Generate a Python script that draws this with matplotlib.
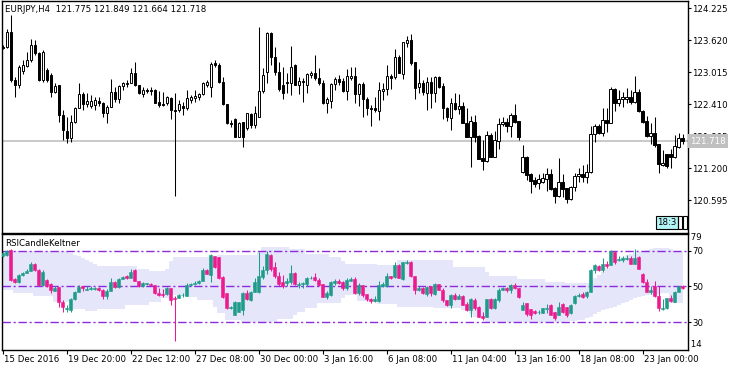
import matplotlib
matplotlib.use("Agg")
import matplotlib.pyplot as plt
import matplotlib.transforms as mtransforms
from matplotlib.patches import Rectangle
import numpy as np

plt.rcParams["font.family"] = ["DejaVu Sans"]
plt.rcParams["font.size"] = 6.2

#### Data ####
symbol_title = "EURJPY,H4  121.775 121.849 121.664 121.718"
indicator_name = "RSICandleKeltner"

price_open = [
    123.493, 123.493, 123.777, 122.870, 122.775, 123.040, 123.134, 123.248, 123.531, 123.380,
    122.870, 123.059, 122.964, 122.643, 122.775, 122.208, 121.905, 121.773, 122.075, 122.340,
    122.605, 122.416, 122.378, 122.397, 122.472, 122.435, 122.246, 122.359, 122.643, 122.510,
    122.756, 122.794, 122.813, 123.002, 122.775, 122.605, 122.681, 122.681, 122.681, 122.454,
    122.416, 122.435, 122.529, 122.302, 122.302, 122.378, 122.340, 122.491, 122.529, 122.548,
    122.605, 122.775, 122.737, 123.191, 123.153, 122.832, 122.416, 122.057, 122.132, 121.792,
    122.075, 121.962, 122.227, 122.019, 122.170, 122.662, 123.021, 123.758, 123.304, 123.021,
    122.775, 122.832, 122.813, 123.153, 122.775, 122.851, 122.775, 122.964, 123.002, 122.907,
    122.813, 122.435, 122.472, 122.794, 122.888, 122.851, 122.662, 122.907, 122.945, 122.605,
    122.794, 122.510, 122.340, 122.340, 122.283, 122.662, 122.699, 122.945, 122.926, 123.304,
    122.983, 123.569, 123.626, 123.210, 122.737, 122.813, 122.624, 122.832, 122.624, 122.926,
    122.756, 122.340, 122.151, 122.435, 122.321, 122.378, 122.057, 121.792, 122.075, 121.811,
    121.395, 121.338, 121.830, 121.414, 121.716, 122.038, 122.075, 122.000, 122.208, 122.094,
    121.130, 121.414, 121.092, 120.979, 120.922, 120.941, 120.998, 121.092, 120.828, 120.677,
    120.941, 120.828, 120.620, 120.847, 121.054, 121.092, 121.035, 121.130, 121.849, 122.000,
    121.867, 122.113, 122.057, 122.699, 122.435, 122.510, 122.510, 122.548, 122.454, 122.643,
    122.283, 122.094, 121.811, 121.867, 121.660, 121.262, 121.470, 121.470, 121.414, 121.603,
    121.775,
]
price_high = [
    123.531, 123.834, 124.098, 122.926, 123.153, 123.248, 123.399, 123.645, 123.626, 123.399,
    123.437, 123.096, 123.002, 122.813, 122.775, 122.302, 122.170, 122.208, 122.359, 122.813,
    122.643, 122.624, 122.586, 122.548, 122.548, 122.454, 122.397, 122.888, 122.737, 122.775,
    122.832, 122.870, 123.096, 123.210, 122.775, 122.737, 122.718, 122.737, 122.699, 122.662,
    122.643, 122.567, 122.548, 122.624, 122.491, 122.454, 122.681, 122.586, 122.681, 122.624,
    122.832, 122.870, 123.210, 123.248, 123.191, 122.926, 122.416, 122.113, 122.151, 122.075,
    122.075, 122.246, 122.246, 122.378, 123.872, 123.096, 123.777, 123.777, 123.493, 123.210,
    123.115, 123.002, 123.512, 123.172, 122.926, 122.907, 123.002, 123.040, 123.342, 123.096,
    122.870, 122.548, 122.813, 122.926, 122.964, 122.907, 123.077, 123.115, 123.115, 122.813,
    122.832, 122.548, 122.397, 122.548, 122.832, 122.813, 123.153, 122.983, 123.456, 123.342,
    123.588, 123.701, 123.739, 123.210, 123.077, 122.870, 122.926, 122.926, 122.945, 122.945,
    122.813, 122.359, 122.529, 122.624, 122.605, 122.454, 122.340, 122.189, 122.208, 121.830,
    121.735, 121.905, 121.867, 121.905, 122.151, 122.170, 122.151, 122.246, 122.416, 122.094,
    121.641, 121.433, 121.111, 121.035, 121.092, 121.111, 121.206, 121.187, 120.847, 121.395,
    121.092, 120.828, 120.866, 121.111, 121.206, 121.262, 121.281, 122.000, 122.038, 122.038,
    122.340, 122.340, 122.737, 122.718, 122.681, 122.643, 122.718, 122.681, 122.945, 122.699,
    122.302, 122.189, 122.057, 122.170, 121.660, 121.546, 121.470, 121.565, 121.830, 121.867,
    121.849,
]
price_low = [
    123.456, 123.475, 122.832, 122.548, 122.718, 122.983, 123.115, 123.210, 123.342, 122.851,
    122.832, 122.832, 122.548, 122.624, 122.075, 121.735, 121.678, 121.697, 122.057, 122.340,
    122.302, 122.359, 122.340, 122.302, 122.378, 122.170, 122.057, 122.359, 122.454, 122.435,
    122.681, 122.737, 122.813, 122.756, 122.605, 122.548, 122.624, 122.586, 122.435, 122.359,
    122.378, 122.397, 122.132, 120.677, 122.265, 122.208, 122.302, 122.435, 122.454, 122.491,
    122.586, 122.737, 122.548, 123.115, 122.813, 122.397, 122.038, 121.981, 121.792, 121.792,
    121.603, 121.924, 121.962, 121.962, 122.170, 122.624, 122.813, 123.153, 122.964, 122.662,
    122.510, 122.624, 122.586, 122.775, 122.605, 122.454, 122.624, 122.907, 122.870, 122.775,
    122.416, 122.246, 122.340, 122.681, 122.775, 122.643, 122.491, 122.870, 122.435, 122.378,
    122.170, 122.208, 122.000, 122.265, 122.113, 122.491, 122.586, 122.699, 122.888, 123.002,
    122.888, 123.493, 123.153, 122.510, 122.624, 122.586, 122.302, 122.340, 122.454, 122.718,
    122.132, 122.094, 121.924, 122.302, 122.227, 122.057, 121.792, 121.225, 121.697, 121.376,
    121.168, 121.319, 121.414, 121.414, 121.565, 122.000, 121.886, 121.792, 122.057, 121.735,
    121.111, 120.979, 120.733, 120.847, 120.809, 120.922, 120.771, 120.790, 120.544, 120.658,
    120.658, 120.544, 120.601, 120.771, 120.941, 120.941, 120.922, 121.111, 121.697, 121.849,
    121.811, 121.886, 122.057, 122.283, 122.378, 122.359, 122.435, 122.416, 122.435, 122.265,
    122.057, 121.792, 121.660, 121.603, 121.111, 121.244, 121.206, 121.206, 121.395, 121.584,
    121.664,
]
price_close = [
    123.484, 123.777, 122.870, 122.775, 123.115, 123.153, 123.248, 123.531, 123.380, 122.870,
    123.399, 122.870, 122.643, 122.756, 122.208, 121.924, 121.773, 122.075, 122.340, 122.605,
    122.416, 122.472, 122.472, 122.491, 122.435, 122.246, 122.359, 122.643, 122.510, 122.756,
    122.813, 122.813, 123.002, 122.775, 122.624, 122.681, 122.662, 122.662, 122.435, 122.397,
    122.397, 122.548, 122.302, 122.293, 122.416, 122.340, 122.529, 122.548, 122.567, 122.605,
    122.813, 122.832, 123.172, 123.153, 122.832, 122.416, 122.057, 122.038, 121.792, 122.057,
    121.792, 122.246, 122.019, 122.246, 122.662, 122.964, 123.758, 123.304, 123.021, 122.699,
    122.624, 122.822, 123.115, 122.775, 122.851, 122.832, 122.983, 123.002, 122.907, 122.813,
    122.435, 122.510, 122.794, 122.888, 122.832, 122.662, 122.945, 122.945, 122.605, 122.794,
    122.510, 122.340, 122.321, 122.302, 122.681, 122.699, 122.945, 122.907, 123.304, 123.002,
    123.588, 123.626, 123.191, 122.718, 122.813, 122.643, 122.832, 122.624, 122.926, 122.737,
    122.340, 122.170, 122.435, 122.321, 122.378, 122.057, 121.792, 122.094, 121.792, 121.376,
    121.338, 121.830, 121.414, 121.735, 122.038, 122.075, 122.000, 122.208, 122.075, 121.792,
    121.414, 121.073, 120.960, 120.903, 120.998, 121.016, 121.092, 120.809, 120.677, 120.941,
    120.809, 120.620, 120.847, 121.054, 121.092, 121.035, 121.130, 121.849, 122.000, 121.867,
    122.113, 122.057, 122.699, 122.435, 122.510, 122.548, 122.548, 122.454, 122.643, 122.283,
    122.075, 121.811, 121.867, 121.641, 121.281, 121.300, 121.244, 121.414, 121.622, 121.773,
    121.718,
]

rsi_open = [
    67.0, 67.4, 70.5, 53.9, 52.6, 56.3, 57.6, 58.7, 62.6, 59.4,
    50.7, 53.8, 51.5, 47.6, 49.6, 41.5, 37.5, 36.9, 43.0, 46.7,
    50.2, 48.1, 48.7, 48.5, 49.1, 48.3, 44.4, 47.6, 52.6, 49.8,
    54.4, 55.6, 55.0, 59.4, 53.1, 50.2, 51.3, 51.1, 50.7, 46.5,
    45.7, 45.6, 48.9, 43.6, 43.8, 45.0, 44.8, 50.7, 51.3, 51.8,
    53.1, 59.1, 56.3, 67.0, 66.5, 55.2, 46.1, 38.0, 34.1, 35.9,
    36.9, 46.5, 42.6, 47.0, 47.0, 55.2, 59.1, 67.4, 61.1, 56.1,
    52.6, 52.2, 52.6, 57.6, 50.6, 51.3, 51.3, 54.6, 55.4, 53.5,
    51.3, 44.3, 45.2, 51.7, 53.0, 52.6, 48.9, 53.1, 53.9, 46.5,
    50.7, 45.7, 42.8, 42.0, 41.7, 50.2, 50.2, 55.6, 55.2, 62.2,
    54.3, 63.1, 63.9, 55.6, 47.8, 49.4, 45.7, 50.2, 45.6, 51.3,
    48.3, 42.4, 39.6, 45.2, 43.2, 44.6, 40.2, 36.9, 42.4, 38.7,
    33.3, 33.0, 42.8, 37.8, 42.6, 48.3, 49.1, 48.0, 50.7, 48.9,
    36.9, 40.9, 37.2, 36.5, 35.5, 35.2, 37.4, 39.6, 35.9, 34.1,
    40.2, 38.7, 35.2, 41.0, 44.6, 45.7, 44.6, 47.0, 59.1, 61.3,
    59.1, 62.4, 62.2, 69.3, 64.6, 64.8, 65.4, 66.1, 62.8, 66.5,
    57.2, 52.6, 46.9, 50.0, 44.6, 37.2, 37.8, 43.7, 41.5, 47.0,
    50.2,
]
rsi_high = [
    69.5, 70.5, 71.0, 54.5, 56.8, 58.2, 59.5, 63.5, 63.0, 59.8,
    59.0, 54.3, 52.0, 50.5, 49.6, 42.5, 39.5, 43.5, 47.5, 51.0,
    50.5, 50.0, 50.0, 49.8, 49.8, 48.6, 48.6, 55.0, 53.3, 55.0,
    56.0, 56.2, 59.5, 60.0, 53.1, 52.5, 52.0, 51.7, 50.9, 49.0,
    48.5, 49.5, 49.0, 44.5, 46.0, 46.5, 52.0, 52.0, 53.0, 53.7,
    60.2, 59.8, 68.2, 67.2, 66.6, 56.0, 46.1, 39.0, 41.8, 41.6,
    46.7, 48.0, 47.4, 54.5, 69.5, 61.5, 70.0, 68.0, 63.5, 58.0,
    56.5, 54.5, 62.0, 58.0, 52.5, 52.5, 55.5, 55.6, 57.5, 55.0,
    51.5, 47.2, 53.0, 54.2, 54.0, 53.0, 55.0, 55.5, 55.5, 52.0,
    51.0, 46.0, 43.5, 44.5, 53.0, 52.5, 57.5, 56.0, 63.5, 62.5,
    63.6, 64.6, 64.5, 55.6, 50.5, 49.9, 50.5, 50.4, 51.9, 51.5,
    49.0, 42.6, 46.0, 46.5, 46.0, 45.0, 41.5, 43.3, 43.5, 38.9,
    36.0, 43.2, 43.3, 43.3, 49.2, 49.6, 49.8, 51.3, 52.0, 49.2,
    41.5, 41.0, 37.6, 37.0, 36.8, 38.1, 40.0, 40.0, 36.0, 41.5,
    41.0, 38.8, 40.0, 45.0, 46.5, 47.0, 47.6, 59.8, 62.5, 61.8,
    66.0, 64.5, 70.2, 69.6, 66.8, 67.0, 67.8, 67.0, 71.1, 67.2,
    57.6, 54.0, 50.0, 53.0, 50.0, 43.0, 43.6, 45.0, 47.5, 50.5,
    50.9,
]
rsi_low = [
    66.5, 67.0, 53.0, 52.0, 52.2, 56.0, 57.3, 58.4, 58.5, 50.4,
    50.4, 49.8, 46.5, 47.3, 38.7, 36.0, 35.5, 36.0, 42.7, 46.7,
    47.5, 47.8, 48.2, 47.8, 47.6, 43.2, 43.0, 47.6, 49.0, 49.3,
    54.0, 54.4, 55.0, 52.8, 49.6, 49.6, 50.9, 50.0, 46.0, 44.6,
    44.1, 45.2, 39.6, 19.8, 43.4, 44.0, 44.5, 50.0, 50.6, 51.5,
    52.9, 56.7, 52.6, 60.5, 54.4, 43.5, 37.4, 37.4, 34.1, 35.5,
    34.0, 42.5, 41.8, 46.8, 46.5, 54.0, 57.0, 58.5, 54.5, 50.5,
    49.0, 50.5, 51.5, 51.0, 49.3, 49.0, 50.5, 54.0, 53.0, 50.3,
    44.0, 43.0, 44.5, 51.0, 51.6, 48.3, 48.0, 52.8, 46.0, 45.5,
    44.0, 42.0, 40.9, 41.5, 41.5, 49.5, 49.5, 54.0, 54.9, 54.5,
    53.5, 62.5, 55.3, 46.0, 47.3, 46.0, 44.8, 44.5, 45.0, 48.0,
    41.5, 39.0, 38.0, 42.5, 42.8, 39.6, 36.5, 32.8, 37.0, 33.0,
    31.5, 32.8, 37.5, 37.6, 41.5, 48.0, 47.0, 46.5, 48.5, 43.8,
    36.7, 33.5, 32.0, 34.5, 34.8, 35.0, 35.2, 33.8, 31.3, 33.9,
    35.0, 33.2, 34.8, 40.0, 44.0, 43.8, 43.8, 46.8, 57.5, 58.8,
    58.3, 60.5, 62.0, 62.5, 64.0, 63.6, 64.8, 62.4, 62.6, 59.6,
    52.0, 46.8, 46.0, 44.0, 36.5, 37.0, 37.5, 41.5, 41.3, 46.8,
    48.6,
]
rsi_close = [
    68.9, 69.8, 53.5, 52.6, 56.3, 57.6, 58.7, 62.4, 59.4, 50.7,
    58.1, 50.2, 48.0, 49.4, 41.5, 38.7, 37.9, 43.0, 46.7, 49.8,
    48.9, 48.7, 48.9, 49.1, 48.3, 44.6, 47.6, 52.6, 49.8, 54.4,
    55.4, 55.0, 58.1, 53.1, 50.2, 51.7, 51.7, 50.7, 46.1, 45.2,
    45.4, 48.9, 42.4, 42.8, 45.2, 45.4, 50.7, 51.3, 51.8, 53.1,
    59.1, 57.2, 67.4, 60.9, 55.0, 44.3, 37.8, 38.5, 41.5, 41.5,
    46.5, 42.8, 47.0, 52.6, 56.0, 59.1, 68.0, 60.0, 55.7, 51.3,
    50.2, 52.8, 57.6, 51.3, 51.5, 51.7, 54.8, 54.8, 53.5, 50.7,
    44.3, 46.5, 52.6, 53.0, 52.1, 48.9, 53.5, 53.9, 46.5, 50.7,
    45.2, 42.8, 42.0, 42.8, 50.7, 51.1, 55.7, 54.9, 62.2, 54.8,
    63.5, 63.9, 55.6, 47.8, 49.2, 46.5, 49.8, 46.1, 51.3, 48.3,
    42.4, 39.6, 45.2, 43.0, 44.6, 39.6, 36.9, 42.8, 37.8, 33.1,
    32.6, 42.8, 37.8, 42.8, 48.3, 48.9, 48.0, 50.7, 49.4, 44.3,
    39.6, 34.5, 34.1, 35.2, 35.9, 37.8, 37.8, 34.1, 32.2, 38.7,
    35.9, 34.1, 39.6, 44.6, 45.2, 44.3, 47.0, 59.4, 61.9, 59.4,
    62.8, 61.5, 69.8, 63.7, 65.4, 66.1, 66.1, 62.8, 66.1, 60.0,
    52.6, 47.0, 47.8, 44.6, 37.8, 38.1, 43.3, 42.0, 47.0, 50.2,
    48.9,
]

band_upper = [
    69.6, 69.6, 69.6, 69.6, 69.6, 69.6, 69.6, 69.6, 69.6, 69.6,
    69.6, 69.6, 69.6, 69.6, 69.6, 69.6, 69.6, 68.5, 67.5, 66.8,
    66.0, 65.0, 63.5, 62.5, 61.5, 61.5, 61.5, 61.5, 61.5, 61.5,
    61.5, 61.5, 61.5, 61.5, 59.5, 59.5, 59.5, 58.5, 58.5, 58.5,
    58.5, 60.0, 64.0, 66.5, 66.5, 66.5, 66.5, 66.5, 66.5, 66.5,
    66.5, 66.5, 66.5, 66.5, 67.4, 67.4, 67.4, 67.4, 67.4, 67.4,
    67.4, 67.4, 67.4, 67.4, 70.0, 72.3, 72.3, 72.3, 72.3, 72.3,
    72.3, 72.3, 71.0, 71.0, 71.0, 71.0, 68.3, 68.3, 68.3, 68.3,
    68.3, 68.3, 66.5, 66.5, 66.5, 64.5, 62.8, 62.8, 62.8, 62.8,
    62.8, 62.8, 62.8, 62.8, 61.9, 61.9, 61.9, 61.9, 61.9, 65.0,
    65.0, 65.0, 65.0, 65.0, 65.0, 65.0, 65.0, 65.0, 64.6, 64.6,
    64.6, 64.6, 64.6, 61.0, 61.0, 61.0, 61.0, 61.0, 61.0, 61.0,
    61.0, 58.0, 55.7, 55.7, 55.7, 55.7, 55.7, 55.7, 55.7, 54.4,
    54.4, 54.4, 54.4, 54.4, 54.4, 54.4, 52.6, 52.6, 52.6, 52.6,
    52.6, 52.0, 52.0, 52.0, 52.0, 52.0, 52.0, 53.5, 55.0, 56.3,
    58.0, 60.5, 62.8, 64.0, 65.0, 66.3, 67.4, 68.0, 68.8, 69.3,
    69.8, 70.5, 71.2, 71.6, 71.6, 71.6, 71.6, 71.0, 70.0, 69.8,
    69.5,
]
band_lower = [
    47.8, 47.8, 47.8, 46.5, 46.5, 46.5, 46.5, 46.5, 44.8, 44.8,
    44.8, 44.8, 44.8, 41.5, 41.5, 41.5, 41.5, 37.2, 37.2, 37.2,
    37.2, 36.5, 36.5, 36.5, 37.5, 37.5, 37.5, 37.5, 37.5, 37.5,
    37.5, 39.5, 39.5, 39.5, 39.5, 39.5, 39.5, 41.5, 41.5, 41.5,
    43.3, 43.3, 45.5, 45.5, 45.5, 45.5, 45.5, 44.0, 44.0, 42.4,
    42.4, 42.4, 42.4, 38.5, 35.0, 35.0, 31.3, 31.3, 31.3, 31.3,
    30.4, 30.4, 30.4, 30.4, 30.4, 30.4, 30.4, 30.4, 30.4, 31.7,
    31.7, 31.7, 31.7, 34.0, 36.0, 36.0, 37.8, 37.8, 37.8, 40.5,
    40.5, 40.5, 40.5, 40.5, 40.5, 43.3, 45.0, 45.0, 45.0, 42.0,
    42.0, 42.0, 42.0, 42.0, 40.0, 40.0, 40.0, 40.0, 40.0, 38.7,
    38.7, 38.7, 38.7, 38.7, 38.7, 38.7, 38.7, 38.7, 37.8, 37.8,
    37.8, 37.8, 37.8, 37.8, 37.8, 36.9, 36.9, 34.5, 32.8, 32.8,
    32.8, 30.4, 30.4, 30.4, 30.4, 30.4, 30.4, 30.4, 30.4, 30.4,
    30.4, 30.4, 30.4, 30.4, 30.4, 30.4, 30.4, 30.4, 30.4, 30.4,
    30.4, 30.8, 30.8, 30.8, 31.3, 31.3, 32.2, 33.1, 34.5, 35.9,
    36.8, 37.3, 37.8, 38.7, 39.6, 40.5, 41.5, 42.4, 43.3, 44.2,
    44.6, 45.0, 45.2, 45.5, 45.8, 46.1, 46.1, 40.5, 40.5, 40.5,
    40.5,
]

price_levels = [124.225, 123.620, 123.015, 122.410, 121.805, 121.200, 120.595]
rsi_levels = [70, 50, 30]
date_bars = [0, 16, 32, 48, 64, 80, 96, 112, 128, 144, 160]
date_labels = ["15 Dec 2016", "19 Dec 20:00", "22 Dec 12:00", "27 Dec 08:00",
               "30 Dec 00:00", "3 Jan 16:00", "6 Jan 08:00", "11 Jan 04:00",
               "13 Jan 16:00", "18 Jan 08:00", "23 Jan 00:00"]

#### Plot ####
po = np.array(price_open)
ph = np.array(price_high)
pl = np.array(price_low)
pc = np.array(price_close)
ro = np.array(rsi_open)
rh = np.array(rsi_high)
rl = np.array(rsi_low)
rc = np.array(rsi_close)
idx = np.arange(len(pc))

fig = plt.figure(figsize=(7.4, 3.7), dpi=100)
ax1 = fig.add_axes([2 / 740, 1 - 232.5 / 370, 685.5 / 740, 231.5 / 370])
ax2 = fig.add_axes([2 / 740, 1 - 349.5 / 370, 685.5 / 740, 115.5 / 370])

for ax in (ax1, ax2):
    ax.set_xlim(-0.2, 171.25)
    for s in ax.spines.values():
        s.set_linewidth(1.0)
        s.set_color("black")

ax1.set_ylim(119.99, 124.363)
ax2.set_ylim(14.8, 79.3)

# price candles
ax1.axhline(pc[-1], color="#c0c0c0", linewidth=1.2, zorder=2)
ax1.vlines(idx, pl, ph, color="black", linewidth=0.75, zorder=3)
up = pc >= po
body_lo = np.minimum(po, pc)
body_h = np.abs(pc - po)
ax1.bar(idx[up], body_h[up], 0.55, bottom=body_lo[up], facecolor="white",
        edgecolor="black", linewidth=0.7, zorder=4)
ax1.bar(idx[~up], body_h[~up], 0.55, bottom=body_lo[~up], facecolor="black",
        edgecolor="black", linewidth=0.7, zorder=4)

ax1.set_xticks([])
ax1.yaxis.tick_right()
ax1.set_yticks(price_levels)
ax1.set_yticklabels(["%.3f" % v for v in price_levels])
ax1.tick_params(axis="y", length=2.5, width=0.8, pad=1, labelsize=6.2)

ax1.text(0.004, 0.963, symbol_title, transform=ax1.transAxes, ha="left", va="center")

trans = mtransforms.blended_transform_factory(ax1.transAxes, ax1.transData)
ax1.text(1.004, pc[-1], "%.3f" % pc[-1], transform=trans, ha="left", va="center",
         color="white", zorder=10, clip_on=False,
         bbox=dict(boxstyle="square,pad=0.25", facecolor="#c0c0c0", edgecolor="none"))

# countdown box bottom right
ax1.text(0.970, 0.043, "18:3", transform=ax1.transAxes, ha="center", va="center", zorder=10,
         bbox=dict(boxstyle="square,pad=0.2", facecolor="#b4f4f4", edgecolor="black", linewidth=0.8))
for xp in (678, 683):
    ax1.add_patch(Rectangle(((xp - 2) / 685.5, 3.5 / 231.5), 3.5 / 685.5, 13 / 231.5,
                            transform=ax1.transAxes, fill=False, edgecolor="black",
                            linewidth=0.8, zorder=10))

# RSI panel
ax2.fill_between(idx, band_lower, band_upper, step="mid", facecolor="#e6e6fa",
                 linewidth=0, zorder=1)
for lvl in rsi_levels:
    ax2.axhline(lvl, color="#8a2be2", linewidth=1.0, linestyle=(0, (6, 2, 1.5, 2)), zorder=2)

cols = np.where(rc >= ro, "#1e9c8a", "#ec1a8e")
ax2.vlines(idx, rl, rh, colors=cols, linewidth=0.75, zorder=3)
ax2.bar(idx, np.abs(rc - ro), 0.7, bottom=np.minimum(ro, rc), color=cols,
        edgecolor=cols, linewidth=0.4, zorder=4)

ax2.yaxis.tick_right()
ax2.set_yticks(rsi_levels)
ax2.set_yticklabels([str(v) for v in rsi_levels])
ax2.tick_params(axis="y", length=2.5, width=0.8, pad=1, labelsize=6.2)
trans2 = mtransforms.blended_transform_factory(ax2.transAxes, ax2.transData)
ax2.text(1.0, 77.1, " 79", transform=trans2, ha="left", va="center", clip_on=False)
ax2.text(1.0, 17.7, " 14", transform=trans2, ha="left", va="center", clip_on=False)

ax2.text(0.004, 0.922, indicator_name, transform=ax2.transAxes, ha="left", va="center")

ax2.set_xticks(date_bars)
ax2.set_xticklabels(date_labels)
ax2.tick_params(axis="x", length=3, width=0.8, pad=1)
shift = mtransforms.ScaledTranslation(1 / 72, 0, fig.dpi_scale_trans)
for lbl in ax2.get_xticklabels():
    lbl.set_horizontalalignment("left")
    lbl.set_transform(lbl.get_transform() + shift)

fig.savefig("out.png", dpi=100, facecolor="white")
